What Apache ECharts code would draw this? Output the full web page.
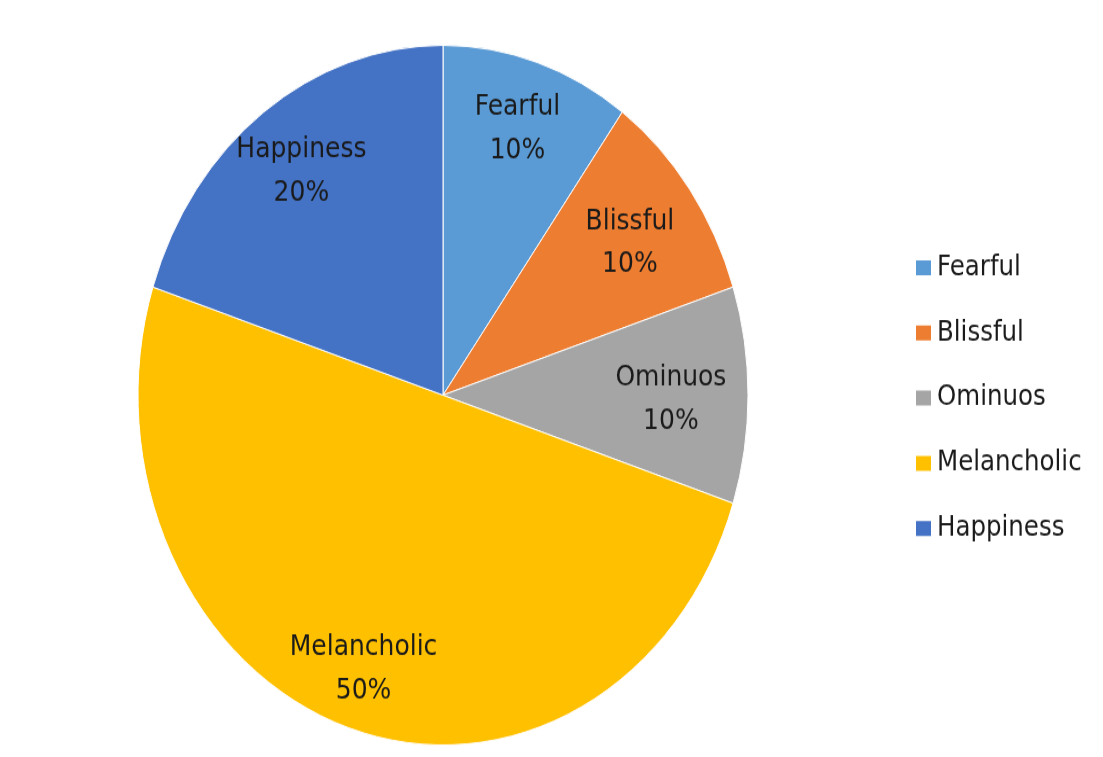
<!DOCTYPE html>
<html>
<head>
<meta charset="utf-8">
<script src="https://cdn.jsdelivr.net/npm/echarts@6/dist/echarts.min.js"></script>
<style>
html,body{margin:0;padding:0;background:#fff;overflow:hidden;width:1103px;height:757px;}
#wrap{width:1103px;height:757px;overflow:hidden;}
#chart{width:1103px;height:660px;transform:scaleY(1.147);transform-origin:0 0;}
</style>
</head>
<body>
<div id="wrap"><div id="chart"></div></div>
<script>
const categories = ['Fearful', 'Blissful', 'Ominuos', 'Melancholic', 'Happiness'];
const values = [10, 10, 10, 50, 20];
const colors = ['#5B9BD5', '#ED7D31', '#A5A5A5', '#FFC000', '#4472C4'];

const chart = echarts.init(document.getElementById('chart'), null, {renderer: 'canvas'});
const font = '"DejaVu Sans", "Noto Sans", sans-serif';
const R = 305;
const center = [443, 344.5];
const pieData = categories.map((c, i) => ({name: c, value: values[i], itemStyle: {color: colors[i]}}));
const labelData = categories.map((c, i) => ({name: c, value: values[i]}));
// small best-fit nudges of the in-slice labels (label layout styling)
const labelNudge = [[0, -3], [-8, 9], [-13, 4], [-5, 10], [0, 0]];

chart.setOption({
  animation: false,
  backgroundColor: '#fff',
  legend: {
    orient: 'vertical',
    left: 909,
    top: 216,
    itemWidth: 17,
    itemHeight: 15,
    itemGap: 31.8,
    icon: 'rect',
    selectedMode: false,
    data: categories.map((c, i) => ({name: c, itemStyle: {color: colors[i]}})),
    textStyle: {fontFamily: font, fontSize: 24.5, lineHeight: 24, color: '#1a1a1a'}
  },
  series: [
    {
      type: 'pie',
      center: center,
      radius: [0, R],
      startAngle: 90,
      clockwise: true,
      silent: true,
      label: {show: false},
      labelLine: {show: false},
      itemStyle: {borderColor: '#fff', borderWidth: 1},
      data: pieData
    },
    {
      type: 'pie',
      center: center,
      radius: [R * 0.56, R],
      startAngle: 90,
      clockwise: true,
      silent: true,
      legendHoverLink: false,
      itemStyle: {color: 'rgba(0,0,0,0)', borderWidth: 0},
      label: {
        show: true,
        position: 'inside',
        formatter: '{b}\n{d}%',
        fontFamily: font,
        fontSize: 25,
        lineHeight: 37.5,
        color: '#1a1a1a'
      },
      labelLine: {show: false},
      labelLayout: function (p) {
        const n = labelNudge[p.dataIndex] || [0, 0];
        return {dx: n[0], dy: n[1]};
      },
      data: labelData
    }
  ]
});
</script>
</body>
</html>
